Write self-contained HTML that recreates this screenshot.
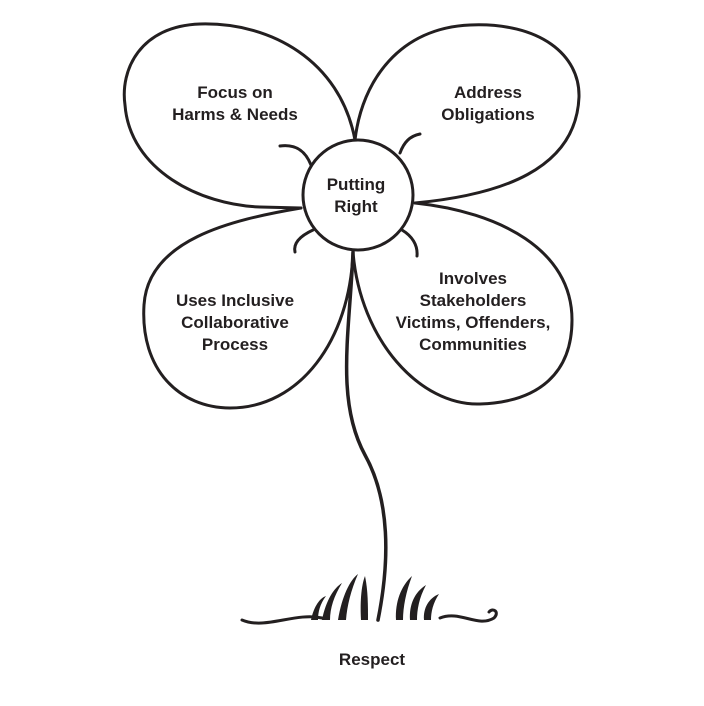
<!DOCTYPE html>
<html><head><style>
html,body{margin:0;padding:0;background:#fff;}
svg{display:block;}
text{font-family:"Liberation Sans",sans-serif;font-weight:bold;font-size:17px;fill:#231f20;text-anchor:middle;}
</style></head><body>
<svg width="704" height="706" viewBox="0 0 704 706">
<g fill="none" stroke="#231f20" stroke-width="3" stroke-linecap="round">
<path d="M355,140 C340,60 270,22 200,24 C140,26 120,70 125,105 C130,170 200,205 260,207 L301,208"/>
<path d="M355,140 C362,80 400,28 470,25 C540,22 580,55 579,97 C576,170 500,195 415,203"/>
<path d="M301,208 C230,220 148,240 144,305 C140,370 180,408 230,408 C300,408 350,340 353,252"/>
<path d="M353,252 C360,340 420,406 480,404 C540,402 572,372 572,320 C572,250 500,212 415,203"/>
<circle cx="358" cy="195" r="55" fill="#fff"/>
<path d="M311,165 C305,150 295,144 280,146"/>
<path d="M400,153 C404,142 410,136 420,134"/>
<path d="M313,230 C300,236 293,243 295,252"/>
<path d="M402,230 C412,236 418,245 417,256"/>
<path d="M353,252 C350,330 335,400 365,455 C390,500 390,560 378,620" stroke-width="3.5"/>
<path d="M242,620 C265,630 295,612 322,618" stroke-width="3"/>
<path d="M440,618 C460,610 478,628 494,618 C500,612 493,607 489,612" stroke-width="3"/>
</g>
<g fill="#231f20">
<path d="M311,620 C314,606 320,598 326,596 C320,604 318,612 318,620 Z"/>
<path d="M322,620 C326,600 334,588 342,583 C334,596 330,608 330,620 Z"/>
<path d="M338,620 C342,596 350,580 358,574 C351,590 347,606 346,620 Z"/>
<path d="M361,620 C360,604 361,586 365,576 C368,590 368,606 368,620 Z"/>
<path d="M396,620 C395,602 401,586 412,576 C406,592 403,607 403,620 Z"/>
<path d="M410,620 C409,604 415,592 426,585 C419,598 417,610 417,620 Z"/>
<path d="M424,620 C423,608 429,598 439,594 C433,603 431,612 431,620 Z"/>
</g>
<text x="356" y="190">Putting</text>
<text x="356" y="212">Right</text>
<text x="235" y="98">Focus on</text>
<text x="235" y="120">Harms &amp; Needs</text>
<text x="488" y="98">Address</text>
<text x="488" y="120">Obligations</text>
<text x="235" y="306">Uses Inclusive</text>
<text x="235" y="328">Collaborative</text>
<text x="235" y="350">Process</text>
<text x="473" y="284">Involves</text>
<text x="473" y="306">Stakeholders</text>
<text x="473" y="328">Victims, Offenders,</text>
<text x="473" y="350">Communities</text>
<text x="372" y="665">Respect</text>
</svg>
</body></html>
